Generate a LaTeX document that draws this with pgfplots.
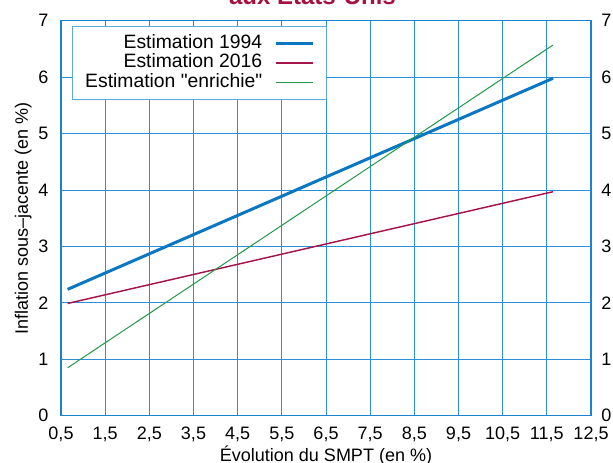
\documentclass[border=0pt]{standalone}
\usepackage{pgfplots}
\pgfplotsset{compat=1.18}
\usepackage{fontspec}
\setmainfont{Liberation Sans}[Ligatures=TeXOff]

\definecolor{gridblue}{HTML}{2B8FD6}
\definecolor{frameblue}{HTML}{1A82CF}
\definecolor{legblue}{HTML}{5AAAE0}
\definecolor{c1994}{HTML}{0A77C2}
\definecolor{c2016}{HTML}{A5154B}
\definecolor{cenr}{HTML}{1F9A4A}
\definecolor{titlered}{HTML}{A6123F}

\pgfplotsset{
  common/.style={
    at={(0,0)}, anchor=south west,
    scale only axis, width=397.5pt, height=296.25pt,
    xmin=0.5, xmax=12.5, ymin=0, ymax=7,
    xtick={0.5,1.5,2.5,3.5,4.5,5.5,6.5,7.5,8.5,9.5,10.5,11.5,12.5},
    ytick={0,1,2,3,4,5,6,7},
    major tick length=0pt,
    tick label style={font=\fontsize{13.5}{15}\selectfont},
    /pgf/number format/assume math mode=true,
    /pgf/number format/use comma,
  }
}

\begin{document}
\begin{tikzpicture}
\useasboundingbox (-45.75pt,-34.7pt) rectangle (414pt,311.8pt);

\begin{axis}[
  common,
  grid=major,
  major grid style={gridblue, line width=0.75pt},
  axis line style={frameblue, line width=1pt},
  xticklabel style={/pgf/number format/fixed, /pgf/number format/fixed zerofill,
    /pgf/number format/precision=1, yshift=-4.7pt},
  yticklabel style={xshift=-6pt},
  xlabel={Évolution du SMPT (en \%)},
  ylabel={Inflation sous–jacente (en \%)},
  label style={font=\fontsize{13.5}{15}\selectfont},
  xlabel style={at={([yshift=-34.5pt]axis description cs:0.5,0)}, anchor=base},
  ylabel style={at={([xshift=-24.75pt]axis description cs:0,0.5)}, anchor=base},
  legend cell align=right,
  legend plot pos=right,
  legend image code/.code={\draw[#1] (0pt,0pt) -- (27.75pt,0pt);},
  legend style={
    at={(axis description cs:0.0208,0.9866)}, anchor=north west,
    draw=legblue, line width=0.75pt, fill=white,
    font=\fontsize{14.5}{14.6}\selectfont,
    inner xsep=9.5pt, inner ysep=5.3pt,
    nodes={inner sep=0pt, text height=11pt, text depth=3.6pt},
    /tikz/column 1/.style={column sep=9pt},
  },
]
\addplot[c1994, line width=2.25pt] coordinates {(0.65,2.24) (11.64,5.98)};
\addlegendentry{Estimation 1994}
\addplot[c2016, line width=1.1pt] coordinates {(0.65,1.99) (11.64,3.97)};
\addlegendentry{Estimation 2016}
\addplot[cenr, line width=0.75pt] coordinates {(0.65,0.85) (11.64,6.57)};
\addlegendentry{Estimation "enrichie"}
\end{axis}

\begin{axis}[
  common,
  axis x line=none,
  axis y line*=right,
  y axis line style={draw=none},
  yticklabel style={xshift=4.3pt},
]
\addplot[draw=none] coordinates {(1,1)};
\end{axis}

% title line, cut off by the top edge as in the source
\node[anchor=base, inner sep=0pt, text=titlered,
  font=\fontsize{18}{20}\selectfont\bfseries] at (188.6pt,308.8pt) {aux États-Unis};
\end{tikzpicture}
\end{document}
